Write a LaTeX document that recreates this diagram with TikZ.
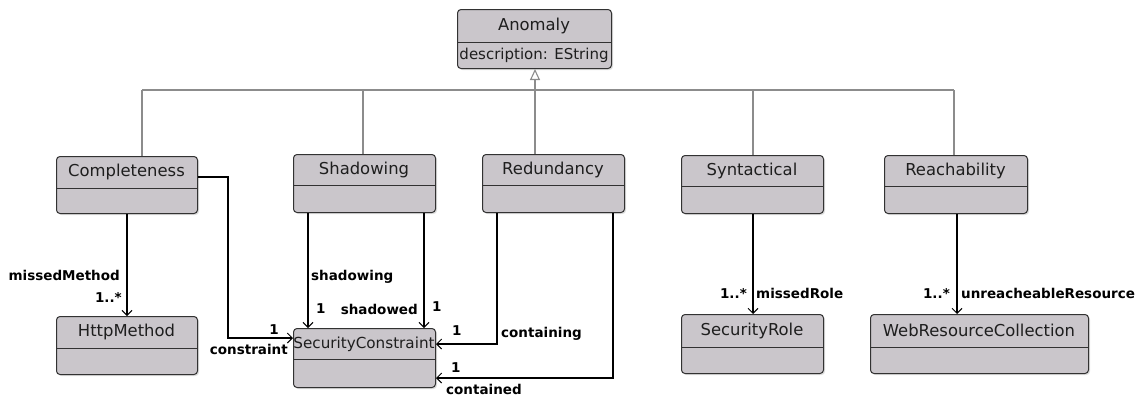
\documentclass[tikz,border=0pt]{standalone}
\usepackage{fontspec}
\setmainfont{DejaVu Sans}
\usetikzlibrary{arrows.meta,shadows}
\definecolor{boxfill}{RGB}{202,198,203}
\definecolor{boxline}{RGB}{50,50,50}
\definecolor{genline}{RGB}{140,140,140}
\definecolor{txt}{RGB}{30,30,30}
\tikzset{
  cls/.style={draw=boxline, fill=boxfill, rounded corners=3.5pt, line width=1pt, inner sep=0pt,
    drop shadow={shadow xshift=1.5pt, shadow yshift=-1.5pt, opacity=0.25}},
  divline/.style={draw=boxline, line width=1pt},
  ctitle/.style={inner sep=0pt, text=txt, font=\fontsize{16.4}{18}\selectfont},
  attr/.style={inner sep=0pt, text=txt, font=\fontsize{15}{17}\selectfont},
  lbl/.style={inner sep=0pt, text=black, font=\fontsize{13.5}{15}\selectfont\bfseries},
  assoc/.style={draw=black, line width=1.1pt, -{Straight Barb[length=5pt,width=10pt,line width=1pt]}},
  gen/.style={draw=genline, line width=1.1pt},
}
\newcommand{\classbox}[7]{%
  \node[cls, minimum width={#4-#2}, minimum height={#5-#3}, anchor=north west] (#1) at (#2,#3) {};
  \draw[divline] (#2,#6) -- (#4,#6);
  \node[ctitle] (#1-t) at ({(#2+#4)/2},{(#3+#6)/2}) {#7};
}
\begin{document}
\begin{tikzpicture}[x=1pt,y=-1pt]
\useasboundingbox (0,0) rectangle (1141,397);
% generalization lines
\draw[gen] (142,90) -- (954,90);
\classbox{anom}{457}{9}{611}{68}{42}{Anomaly}
\node[attr] (anom-a) at (534,55) {description: EString};
\classbox{comp}{56}{156}{197}{213}{188}{Completeness}
\classbox{shad}{293}{154}{435}{212}{185}{Shadowing}
\classbox{red}{482}{154}{624}{212}{185}{Redundancy}
\classbox{syn}{681}{155}{823}{213}{186}{Syntactical}
\classbox{reach}{884}{155}{1027}{213}{186}{Reachability}
\classbox{http}{56}{316}{197}{374}{348}{HttpMethod}
\node[cls, minimum width=142, minimum height=59, anchor=north west] (sc) at (293,328) {};
\draw[divline] (293,359) -- (435,359);
\node[inner sep=0pt, text=txt, font=\fontsize{15.2}{17}\selectfont] (sc-t) at (364,344.5) {SecurityConstraint};
\classbox{role}{681}{314}{823}{373}{347}{SecurityRole}
\classbox{wrc}{870}{314}{1088}{373}{347}{WebResourceCollection}
% generalization verticals
\draw[gen] (comp.north -| 142,0) -- (142,90);
\draw[gen] (shad.north -| 363,0) -- (363,90);
\draw[gen] (syn.north -| 753,0) -- (753,90);
\draw[gen] (reach.north -| 954,0) -- (954,90);
\draw[gen, -{Triangle[open, length=11pt, width=10pt, line width=1.1pt]}] (red.north -| 535,0) -- (anom.south -| 535,0);
% associations
\draw[assoc] (comp.south -| 127,0) -- (http.north -| 127,0);
\node[lbl, anchor=east] (l1) at (120,275) {missedMethod};
\node[lbl, anchor=east] (l2) at (122,297) {1..*};
\draw[assoc] (comp.east |- 0,177) -- (228,177) |- (sc.west |- 0,338);
\node[lbl, anchor=east] (l3) at (279,330) {1};
\node[lbl, anchor=east] (l4) at (288,349) {constraint};
\draw[assoc] (shad.south -| 308,0) -- (sc.north -| 308,0);
\node[lbl, anchor=west] (l5) at (311,277) {shadowing};
\node[lbl, anchor=west] (l6) at (316,309) {1};
\draw[assoc] (shad.south -| 424,0) -- (sc.north -| 424,0);
\node[lbl, anchor=east] (l7) at (418,309) {shadowed};
\node[lbl, anchor=west] (l8) at (432,307) {1};
\draw[assoc] (red.south -| 497,0) |- (sc.east |- 0,344);
\node[lbl, anchor=west] (l9) at (452,331) {1};
\node[lbl, anchor=west] (l10) at (501,334) {containing};
\draw[assoc] (red.south -| 613,0) |- (sc.east |- 0,378);
\node[lbl, anchor=west] (l11) at (451,368) {1};
\node[lbl, anchor=west] (l12) at (446,389) {contained};
\draw[assoc] (syn.south -| 753,0) -- (role.north -| 753,0);
\node[lbl, anchor=east] (l13) at (747,293) {1..*};
\node[lbl, anchor=west] (l14) at (756,293) {missedRole};
\draw[assoc] (reach.south -| 957,0) -- (wrc.north -| 957,0);
\node[lbl, anchor=east] (l15) at (950,293) {1..*};
\node[lbl, anchor=west] (l16) at (961,293) {unreacheableResource};
\end{tikzpicture}
\end{document}
